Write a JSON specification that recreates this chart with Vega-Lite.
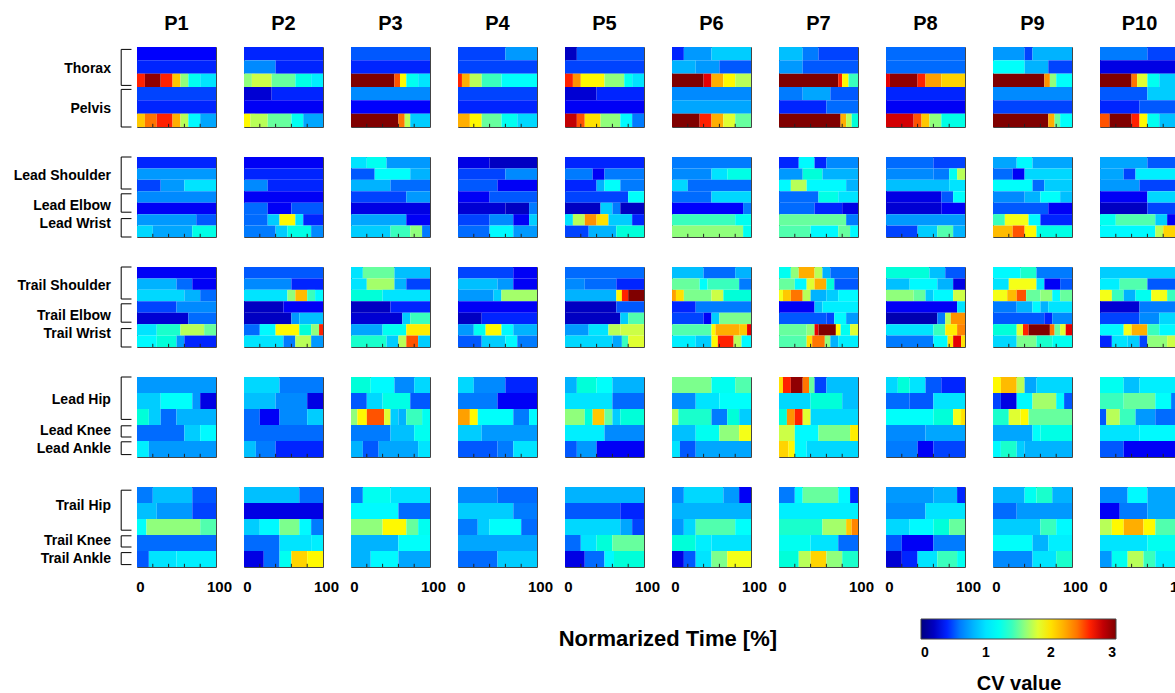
{"$schema":"https://vega.github.io/schema/vega-lite/v6.json","padding":{"left":13,"top":14,"right":0,"bottom":0},"background":"white","title":{"text":"Normarized Time [%]","orient":"bottom","anchor":"middle","font":"Liberation Sans","fontSize":22,"fontWeight":"bold","dx":64,"dy":-69,"color":"black"},"config":{"font":"Liberation Sans","view":{"stroke":"#444","strokeWidth":1},"axis":{"labelFont":"Liberation Sans","labelFontSize":15,"labelFontWeight":"bold","labelColor":"black"}},"data":{"values":[
{"p":1,"g":1,"r":0,"t":0,"e":100,"v":0.37},{"p":1,"g":1,"r":1,"t":0,"e":100,"v":0.4},{"p":1,"g":1,"r":2,"t":0,"e":10,"v":2.6},{"p":1,"g":1,"r":2,"t":10,"e":30,"v":2.95},{"p":1,"g":1,"r":2,"t":30,"e":45,"v":2.6},{"p":1,"g":1,"r":2,"t":45,"e":55,"v":2.1},{"p":1,"g":1,"r":2,"t":55,"e":65,"v":1.6},{"p":1,"g":1,"r":2,"t":65,"e":80,"v":1.2},{"p":1,"g":1,"r":2,"t":80,"e":100,"v":1},{"p":1,"g":1,"r":3,"t":0,"e":100,"v":0.45},{"p":1,"g":1,"r":4,"t":0,"e":100,"v":0.4},{"p":1,"g":1,"r":5,"t":0,"e":10,"v":2.1},{"p":1,"g":1,"r":5,"t":10,"e":25,"v":2.4},{"p":1,"g":1,"r":5,"t":25,"e":45,"v":2.6},{"p":1,"g":1,"r":5,"t":45,"e":55,"v":2.2},{"p":1,"g":1,"r":5,"t":55,"e":65,"v":1.7},{"p":1,"g":1,"r":5,"t":65,"e":80,"v":1.1},{"p":1,"g":1,"r":5,"t":80,"e":100,"v":0.75},
{"p":2,"g":1,"r":0,"t":0,"e":100,"v":0.4},{"p":2,"g":1,"r":1,"t":0,"e":40,"v":0.65},{"p":2,"g":1,"r":1,"t":40,"e":100,"v":0.4},{"p":2,"g":1,"r":2,"t":0,"e":10,"v":1.6},{"p":2,"g":1,"r":2,"t":10,"e":35,"v":1.75},{"p":2,"g":1,"r":2,"t":35,"e":65,"v":1.5},{"p":2,"g":1,"r":2,"t":65,"e":85,"v":1.25},{"p":2,"g":1,"r":2,"t":85,"e":100,"v":1.05},{"p":2,"g":1,"r":3,"t":0,"e":35,"v":0.25},{"p":2,"g":1,"r":3,"t":35,"e":100,"v":0.4},{"p":2,"g":1,"r":4,"t":0,"e":100,"v":0.35},{"p":2,"g":1,"r":5,"t":0,"e":8,"v":1.9},{"p":2,"g":1,"r":5,"t":8,"e":30,"v":1.7},{"p":2,"g":1,"r":5,"t":30,"e":60,"v":1.5},{"p":2,"g":1,"r":5,"t":60,"e":75,"v":1.2},{"p":2,"g":1,"r":5,"t":75,"e":100,"v":0.75},
{"p":3,"g":1,"r":0,"t":0,"e":100,"v":0.5},{"p":3,"g":1,"r":1,"t":0,"e":100,"v":0.4},{"p":3,"g":1,"r":2,"t":0,"e":55,"v":3},{"p":3,"g":1,"r":2,"t":55,"e":62,"v":2.5},{"p":3,"g":1,"r":2,"t":62,"e":70,"v":1.9},{"p":3,"g":1,"r":2,"t":70,"e":85,"v":1.2},{"p":3,"g":1,"r":2,"t":85,"e":100,"v":1},{"p":3,"g":1,"r":3,"t":0,"e":100,"v":0.65},{"p":3,"g":1,"r":4,"t":0,"e":100,"v":0.37},{"p":3,"g":1,"r":5,"t":0,"e":60,"v":3},{"p":3,"g":1,"r":5,"t":60,"e":68,"v":2.4},{"p":3,"g":1,"r":5,"t":68,"e":75,"v":1.7},{"p":3,"g":1,"r":5,"t":75,"e":100,"v":0.9},
{"p":4,"g":1,"r":0,"t":0,"e":60,"v":0.45},{"p":4,"g":1,"r":0,"t":60,"e":100,"v":0.7},{"p":4,"g":1,"r":1,"t":0,"e":100,"v":0.45},{"p":4,"g":1,"r":2,"t":0,"e":5,"v":2.6},{"p":4,"g":1,"r":2,"t":5,"e":15,"v":2.2},{"p":4,"g":1,"r":2,"t":15,"e":30,"v":1.7},{"p":4,"g":1,"r":2,"t":30,"e":55,"v":1.4},{"p":4,"g":1,"r":2,"t":55,"e":100,"v":1.15},{"p":4,"g":1,"r":3,"t":0,"e":100,"v":0.45},{"p":4,"g":1,"r":4,"t":0,"e":100,"v":0.4},{"p":4,"g":1,"r":5,"t":0,"e":15,"v":2.2},{"p":4,"g":1,"r":5,"t":15,"e":30,"v":1.9},{"p":4,"g":1,"r":5,"t":30,"e":55,"v":1.5},{"p":4,"g":1,"r":5,"t":55,"e":75,"v":1.2},{"p":4,"g":1,"r":5,"t":75,"e":100,"v":0.95},
{"p":5,"g":1,"r":0,"t":0,"e":15,"v":0.2},{"p":5,"g":1,"r":0,"t":15,"e":100,"v":0.5},{"p":5,"g":1,"r":1,"t":0,"e":100,"v":0.45},{"p":5,"g":1,"r":2,"t":0,"e":10,"v":2.6},{"p":5,"g":1,"r":2,"t":10,"e":20,"v":2.3},{"p":5,"g":1,"r":2,"t":20,"e":50,"v":1.9},{"p":5,"g":1,"r":2,"t":50,"e":75,"v":1.6},{"p":5,"g":1,"r":2,"t":75,"e":85,"v":1.2},{"p":5,"g":1,"r":2,"t":85,"e":100,"v":1},{"p":5,"g":1,"r":3,"t":0,"e":40,"v":0.25},{"p":5,"g":1,"r":3,"t":40,"e":100,"v":0.4},{"p":5,"g":1,"r":4,"t":0,"e":100,"v":0.35},{"p":5,"g":1,"r":5,"t":0,"e":15,"v":2.8},{"p":5,"g":1,"r":5,"t":15,"e":25,"v":2.5},{"p":5,"g":1,"r":5,"t":25,"e":45,"v":2},{"p":5,"g":1,"r":5,"t":45,"e":70,"v":1.6},{"p":5,"g":1,"r":5,"t":70,"e":85,"v":1.1},{"p":5,"g":1,"r":5,"t":85,"e":100,"v":0.6},
{"p":6,"g":1,"r":0,"t":0,"e":15,"v":0.4},{"p":6,"g":1,"r":0,"t":15,"e":50,"v":0.7},{"p":6,"g":1,"r":0,"t":50,"e":100,"v":0.9},{"p":6,"g":1,"r":1,"t":0,"e":30,"v":0.8},{"p":6,"g":1,"r":1,"t":30,"e":60,"v":0.7},{"p":6,"g":1,"r":1,"t":60,"e":100,"v":0.5},{"p":6,"g":1,"r":2,"t":0,"e":40,"v":3},{"p":6,"g":1,"r":2,"t":40,"e":50,"v":2.7},{"p":6,"g":1,"r":2,"t":50,"e":65,"v":2.2},{"p":6,"g":1,"r":2,"t":65,"e":80,"v":1.9},{"p":6,"g":1,"r":2,"t":80,"e":100,"v":1.7},{"p":6,"g":1,"r":3,"t":0,"e":100,"v":0.65},{"p":6,"g":1,"r":4,"t":0,"e":100,"v":0.75},{"p":6,"g":1,"r":5,"t":0,"e":35,"v":3},{"p":6,"g":1,"r":5,"t":35,"e":50,"v":2.6},{"p":6,"g":1,"r":5,"t":50,"e":65,"v":2.2},{"p":6,"g":1,"r":5,"t":65,"e":80,"v":1.8},{"p":6,"g":1,"r":5,"t":80,"e":100,"v":1.5},
{"p":7,"g":1,"r":0,"t":0,"e":30,"v":0.85},{"p":7,"g":1,"r":0,"t":30,"e":50,"v":0.6},{"p":7,"g":1,"r":0,"t":50,"e":100,"v":0.45},{"p":7,"g":1,"r":1,"t":0,"e":30,"v":0.7},{"p":7,"g":1,"r":1,"t":30,"e":100,"v":0.5},{"p":7,"g":1,"r":2,"t":0,"e":75,"v":3},{"p":7,"g":1,"r":2,"t":75,"e":80,"v":2.6},{"p":7,"g":1,"r":2,"t":80,"e":88,"v":1.9},{"p":7,"g":1,"r":2,"t":88,"e":100,"v":1.4},{"p":7,"g":1,"r":3,"t":0,"e":30,"v":0.6},{"p":7,"g":1,"r":3,"t":30,"e":65,"v":0.75},{"p":7,"g":1,"r":3,"t":65,"e":100,"v":0.5},{"p":7,"g":1,"r":4,"t":0,"e":60,"v":0.4},{"p":7,"g":1,"r":4,"t":60,"e":100,"v":0.55},{"p":7,"g":1,"r":5,"t":0,"e":78,"v":3},{"p":7,"g":1,"r":5,"t":78,"e":85,"v":2.2},{"p":7,"g":1,"r":5,"t":85,"e":92,"v":1.7},{"p":7,"g":1,"r":5,"t":92,"e":100,"v":1.3},
{"p":8,"g":1,"r":0,"t":0,"e":100,"v":0.55},{"p":8,"g":1,"r":1,"t":0,"e":100,"v":0.55},{"p":8,"g":1,"r":2,"t":0,"e":5,"v":2.7},{"p":8,"g":1,"r":2,"t":5,"e":40,"v":2.95},{"p":8,"g":1,"r":2,"t":40,"e":50,"v":2.6},{"p":8,"g":1,"r":2,"t":50,"e":70,"v":2.25},{"p":8,"g":1,"r":2,"t":70,"e":100,"v":2.05},{"p":8,"g":1,"r":3,"t":0,"e":100,"v":0.4},{"p":8,"g":1,"r":4,"t":0,"e":100,"v":0.35},{"p":8,"g":1,"r":5,"t":0,"e":35,"v":2.75},{"p":8,"g":1,"r":5,"t":35,"e":45,"v":2.5},{"p":8,"g":1,"r":5,"t":45,"e":55,"v":2.1},{"p":8,"g":1,"r":5,"t":55,"e":70,"v":1.6},{"p":8,"g":1,"r":5,"t":70,"e":100,"v":1.25},
{"p":9,"g":1,"r":0,"t":0,"e":40,"v":0.7},{"p":9,"g":1,"r":0,"t":40,"e":50,"v":0.45},{"p":9,"g":1,"r":0,"t":50,"e":100,"v":0.8},{"p":9,"g":1,"r":1,"t":0,"e":40,"v":1.15},{"p":9,"g":1,"r":1,"t":40,"e":70,"v":0.8},{"p":9,"g":1,"r":1,"t":70,"e":100,"v":0.45},{"p":9,"g":1,"r":2,"t":0,"e":65,"v":3},{"p":9,"g":1,"r":2,"t":65,"e":72,"v":2.3},{"p":9,"g":1,"r":2,"t":72,"e":80,"v":1.6},{"p":9,"g":1,"r":2,"t":80,"e":100,"v":1.15},{"p":9,"g":1,"r":3,"t":0,"e":100,"v":0.65},{"p":9,"g":1,"r":4,"t":0,"e":100,"v":0.45},{"p":9,"g":1,"r":5,"t":0,"e":70,"v":3},{"p":9,"g":1,"r":5,"t":70,"e":78,"v":2.2},{"p":9,"g":1,"r":5,"t":78,"e":85,"v":1.5},{"p":9,"g":1,"r":5,"t":85,"e":100,"v":1.15},
{"p":10,"g":1,"r":0,"t":0,"e":60,"v":0.6},{"p":10,"g":1,"r":0,"t":60,"e":100,"v":0.45},{"p":10,"g":1,"r":1,"t":0,"e":100,"v":0.3},{"p":10,"g":1,"r":2,"t":0,"e":40,"v":3},{"p":10,"g":1,"r":2,"t":40,"e":47,"v":2.4},{"p":10,"g":1,"r":2,"t":47,"e":60,"v":1.8},{"p":10,"g":1,"r":2,"t":60,"e":75,"v":1.2},{"p":10,"g":1,"r":2,"t":75,"e":100,"v":0.9},{"p":10,"g":1,"r":3,"t":0,"e":60,"v":0.5},{"p":10,"g":1,"r":3,"t":60,"e":100,"v":0.9},{"p":10,"g":1,"r":4,"t":0,"e":50,"v":0.4},{"p":10,"g":1,"r":4,"t":50,"e":100,"v":0.5},{"p":10,"g":1,"r":5,"t":0,"e":12,"v":2.5},{"p":10,"g":1,"r":5,"t":12,"e":40,"v":3},{"p":10,"g":1,"r":5,"t":40,"e":50,"v":2.6},{"p":10,"g":1,"r":5,"t":50,"e":60,"v":1.9},{"p":10,"g":1,"r":5,"t":60,"e":75,"v":1.2},{"p":10,"g":1,"r":5,"t":75,"e":100,"v":0.85},
{"p":1,"g":2,"r":0,"t":0,"e":100,"v":0.4},{"p":1,"g":2,"r":1,"t":0,"e":100,"v":0.7},{"p":1,"g":2,"r":2,"t":0,"e":30,"v":0.45},{"p":1,"g":2,"r":2,"t":30,"e":60,"v":0.7},{"p":1,"g":2,"r":2,"t":60,"e":100,"v":1},{"p":1,"g":2,"r":3,"t":0,"e":100,"v":0.65},{"p":1,"g":2,"r":4,"t":0,"e":100,"v":0.35},{"p":1,"g":2,"r":5,"t":0,"e":75,"v":0.7},{"p":1,"g":2,"r":5,"t":75,"e":100,"v":0.5},{"p":1,"g":2,"r":6,"t":0,"e":20,"v":0.95},{"p":1,"g":2,"r":6,"t":20,"e":70,"v":0.75},{"p":1,"g":2,"r":6,"t":70,"e":100,"v":1.25},
{"p":2,"g":2,"r":0,"t":0,"e":100,"v":0.35},{"p":2,"g":2,"r":1,"t":0,"e":100,"v":0.4},{"p":2,"g":2,"r":2,"t":0,"e":30,"v":0.65},{"p":2,"g":2,"r":2,"t":30,"e":100,"v":0.4},{"p":2,"g":2,"r":3,"t":0,"e":100,"v":0.35},{"p":2,"g":2,"r":4,"t":0,"e":30,"v":0.55},{"p":2,"g":2,"r":4,"t":30,"e":60,"v":0.35},{"p":2,"g":2,"r":4,"t":60,"e":100,"v":0.5},{"p":2,"g":2,"r":5,"t":0,"e":30,"v":0.55},{"p":2,"g":2,"r":5,"t":30,"e":45,"v":0.9},{"p":2,"g":2,"r":5,"t":45,"e":65,"v":1.9},{"p":2,"g":2,"r":5,"t":65,"e":75,"v":1},{"p":2,"g":2,"r":5,"t":75,"e":100,"v":0.4},{"p":2,"g":2,"r":6,"t":0,"e":40,"v":0.6},{"p":2,"g":2,"r":6,"t":40,"e":55,"v":0.9},{"p":2,"g":2,"r":6,"t":55,"e":85,"v":1.25},{"p":2,"g":2,"r":6,"t":85,"e":100,"v":0.65},
{"p":3,"g":2,"r":0,"t":0,"e":20,"v":1},{"p":3,"g":2,"r":0,"t":20,"e":45,"v":1.2},{"p":3,"g":2,"r":0,"t":45,"e":100,"v":0.7},{"p":3,"g":2,"r":1,"t":0,"e":30,"v":0.5},{"p":3,"g":2,"r":1,"t":30,"e":75,"v":1.15},{"p":3,"g":2,"r":1,"t":75,"e":100,"v":0.8},{"p":3,"g":2,"r":2,"t":0,"e":50,"v":0.8},{"p":3,"g":2,"r":2,"t":50,"e":100,"v":0.55},{"p":3,"g":2,"r":3,"t":0,"e":70,"v":0.45},{"p":3,"g":2,"r":3,"t":70,"e":100,"v":0.7},{"p":3,"g":2,"r":4,"t":0,"e":100,"v":0.3},{"p":3,"g":2,"r":5,"t":0,"e":70,"v":0.75},{"p":3,"g":2,"r":5,"t":70,"e":100,"v":0.35},{"p":3,"g":2,"r":6,"t":0,"e":50,"v":0.9},{"p":3,"g":2,"r":6,"t":50,"e":75,"v":1.4},{"p":3,"g":2,"r":6,"t":75,"e":90,"v":1.6},{"p":3,"g":2,"r":6,"t":90,"e":100,"v":0.6},
{"p":4,"g":2,"r":0,"t":0,"e":40,"v":0.3},{"p":4,"g":2,"r":0,"t":40,"e":100,"v":0.2},{"p":4,"g":2,"r":1,"t":0,"e":60,"v":0.45},{"p":4,"g":2,"r":1,"t":60,"e":100,"v":0.65},{"p":4,"g":2,"r":2,"t":0,"e":50,"v":0.5},{"p":4,"g":2,"r":2,"t":50,"e":100,"v":0.35},{"p":4,"g":2,"r":3,"t":0,"e":40,"v":0.35},{"p":4,"g":2,"r":3,"t":40,"e":100,"v":0.5},{"p":4,"g":2,"r":4,"t":0,"e":60,"v":0.25},{"p":4,"g":2,"r":4,"t":60,"e":90,"v":0.2},{"p":4,"g":2,"r":4,"t":90,"e":100,"v":0.6},{"p":4,"g":2,"r":5,"t":0,"e":40,"v":0.45},{"p":4,"g":2,"r":5,"t":40,"e":70,"v":0.65},{"p":4,"g":2,"r":5,"t":70,"e":90,"v":0.35},{"p":4,"g":2,"r":5,"t":90,"e":100,"v":0.9},{"p":4,"g":2,"r":6,"t":0,"e":40,"v":0.55},{"p":4,"g":2,"r":6,"t":40,"e":70,"v":1.1},{"p":4,"g":2,"r":6,"t":70,"e":100,"v":0.7},
{"p":5,"g":2,"r":0,"t":0,"e":100,"v":0.4},{"p":5,"g":2,"r":1,"t":0,"e":35,"v":0.6},{"p":5,"g":2,"r":1,"t":35,"e":50,"v":0.35},{"p":5,"g":2,"r":1,"t":50,"e":100,"v":0.6},{"p":5,"g":2,"r":2,"t":0,"e":40,"v":0.4},{"p":5,"g":2,"r":2,"t":40,"e":50,"v":0.8},{"p":5,"g":2,"r":2,"t":50,"e":70,"v":1.15},{"p":5,"g":2,"r":2,"t":70,"e":100,"v":0.6},{"p":5,"g":2,"r":3,"t":0,"e":80,"v":0.45},{"p":5,"g":2,"r":3,"t":80,"e":100,"v":1.15},{"p":5,"g":2,"r":4,"t":0,"e":45,"v":0.2},{"p":5,"g":2,"r":4,"t":45,"e":60,"v":0.9},{"p":5,"g":2,"r":4,"t":60,"e":70,"v":0.6},{"p":5,"g":2,"r":4,"t":70,"e":100,"v":0.2},{"p":5,"g":2,"r":5,"t":0,"e":10,"v":1},{"p":5,"g":2,"r":5,"t":10,"e":25,"v":1.7},{"p":5,"g":2,"r":5,"t":25,"e":40,"v":2.3},{"p":5,"g":2,"r":5,"t":40,"e":55,"v":2},{"p":5,"g":2,"r":5,"t":55,"e":85,"v":0.9},{"p":5,"g":2,"r":5,"t":85,"e":100,"v":0.4},{"p":5,"g":2,"r":6,"t":0,"e":30,"v":0.45},{"p":5,"g":2,"r":6,"t":30,"e":65,"v":0.8},{"p":5,"g":2,"r":6,"t":65,"e":100,"v":1.3},
{"p":6,"g":2,"r":0,"t":0,"e":100,"v":0.6},{"p":6,"g":2,"r":1,"t":0,"e":50,"v":0.65},{"p":6,"g":2,"r":1,"t":50,"e":70,"v":1},{"p":6,"g":2,"r":1,"t":70,"e":100,"v":1.25},{"p":6,"g":2,"r":2,"t":0,"e":20,"v":0.95},{"p":6,"g":2,"r":2,"t":20,"e":100,"v":0.55},{"p":6,"g":2,"r":3,"t":0,"e":50,"v":0.55},{"p":6,"g":2,"r":3,"t":50,"e":100,"v":0.95},{"p":6,"g":2,"r":4,"t":0,"e":90,"v":0.37},{"p":6,"g":2,"r":4,"t":90,"e":100,"v":0.6},{"p":6,"g":2,"r":5,"t":0,"e":80,"v":1.4},{"p":6,"g":2,"r":5,"t":80,"e":100,"v":1.2},{"p":6,"g":2,"r":6,"t":0,"e":90,"v":1.6},{"p":6,"g":2,"r":6,"t":90,"e":100,"v":1.2},
{"p":7,"g":2,"r":0,"t":0,"e":25,"v":0.4},{"p":7,"g":2,"r":0,"t":25,"e":45,"v":1.1},{"p":7,"g":2,"r":0,"t":45,"e":60,"v":0.4},{"p":7,"g":2,"r":0,"t":60,"e":100,"v":0.65},{"p":7,"g":2,"r":1,"t":0,"e":30,"v":0.7},{"p":7,"g":2,"r":1,"t":30,"e":55,"v":1.3},{"p":7,"g":2,"r":1,"t":55,"e":100,"v":0.8},{"p":7,"g":2,"r":2,"t":0,"e":15,"v":1.1},{"p":7,"g":2,"r":2,"t":15,"e":35,"v":1.7},{"p":7,"g":2,"r":2,"t":35,"e":85,"v":1.1},{"p":7,"g":2,"r":2,"t":85,"e":100,"v":0.8},{"p":7,"g":2,"r":3,"t":0,"e":50,"v":0.55},{"p":7,"g":2,"r":3,"t":50,"e":75,"v":1.25},{"p":7,"g":2,"r":3,"t":75,"e":100,"v":1},{"p":7,"g":2,"r":4,"t":0,"e":45,"v":0.55},{"p":7,"g":2,"r":4,"t":45,"e":80,"v":0.4},{"p":7,"g":2,"r":4,"t":80,"e":100,"v":0.3},{"p":7,"g":2,"r":5,"t":0,"e":85,"v":1.5},{"p":7,"g":2,"r":5,"t":85,"e":100,"v":0.6},{"p":7,"g":2,"r":6,"t":0,"e":40,"v":1.45},{"p":7,"g":2,"r":6,"t":40,"e":75,"v":1.1},{"p":7,"g":2,"r":6,"t":75,"e":90,"v":1.5},{"p":7,"g":2,"r":6,"t":90,"e":100,"v":1.1},
{"p":8,"g":2,"r":0,"t":0,"e":60,"v":0.55},{"p":8,"g":2,"r":0,"t":60,"e":100,"v":0.45},{"p":8,"g":2,"r":1,"t":0,"e":60,"v":0.65},{"p":8,"g":2,"r":1,"t":60,"e":80,"v":0.6},{"p":8,"g":2,"r":1,"t":80,"e":90,"v":1.2},{"p":8,"g":2,"r":1,"t":90,"e":100,"v":1.7},{"p":8,"g":2,"r":2,"t":0,"e":80,"v":0.85},{"p":8,"g":2,"r":2,"t":80,"e":100,"v":1},{"p":8,"g":2,"r":3,"t":0,"e":70,"v":0.3},{"p":8,"g":2,"r":3,"t":70,"e":85,"v":0.5},{"p":8,"g":2,"r":3,"t":85,"e":100,"v":1.15},{"p":8,"g":2,"r":4,"t":0,"e":70,"v":0.25},{"p":8,"g":2,"r":4,"t":70,"e":100,"v":0.35},{"p":8,"g":2,"r":5,"t":0,"e":100,"v":0.7},{"p":8,"g":2,"r":6,"t":0,"e":40,"v":0.45},{"p":8,"g":2,"r":6,"t":40,"e":65,"v":0.9},{"p":8,"g":2,"r":6,"t":65,"e":85,"v":1.45},{"p":8,"g":2,"r":6,"t":85,"e":100,"v":0.8},
{"p":9,"g":2,"r":0,"t":0,"e":30,"v":0.75},{"p":9,"g":2,"r":0,"t":30,"e":50,"v":1.1},{"p":9,"g":2,"r":0,"t":50,"e":100,"v":0.75},{"p":9,"g":2,"r":1,"t":0,"e":25,"v":0.55},{"p":9,"g":2,"r":1,"t":25,"e":40,"v":0.35},{"p":9,"g":2,"r":1,"t":40,"e":100,"v":0.95},{"p":9,"g":2,"r":2,"t":0,"e":50,"v":1.15},{"p":9,"g":2,"r":2,"t":50,"e":65,"v":0.55},{"p":9,"g":2,"r":2,"t":65,"e":100,"v":0.9},{"p":9,"g":2,"r":3,"t":0,"e":40,"v":0.65},{"p":9,"g":2,"r":3,"t":40,"e":60,"v":0.8},{"p":9,"g":2,"r":3,"t":60,"e":85,"v":1.15},{"p":9,"g":2,"r":3,"t":85,"e":100,"v":0.85},{"p":9,"g":2,"r":4,"t":0,"e":70,"v":0.5},{"p":9,"g":2,"r":4,"t":70,"e":100,"v":0.35},{"p":9,"g":2,"r":5,"t":0,"e":15,"v":1.4},{"p":9,"g":2,"r":5,"t":15,"e":45,"v":1.85},{"p":9,"g":2,"r":5,"t":45,"e":60,"v":1.1},{"p":9,"g":2,"r":5,"t":60,"e":100,"v":0.4},{"p":9,"g":2,"r":6,"t":0,"e":25,"v":2.15},{"p":9,"g":2,"r":6,"t":25,"e":40,"v":2.5},{"p":9,"g":2,"r":6,"t":40,"e":55,"v":1.9},{"p":9,"g":2,"r":6,"t":55,"e":100,"v":1.25},
{"p":10,"g":2,"r":0,"t":0,"e":60,"v":0.75},{"p":10,"g":2,"r":0,"t":60,"e":100,"v":0.5},{"p":10,"g":2,"r":1,"t":0,"e":30,"v":0.75},{"p":10,"g":2,"r":1,"t":30,"e":45,"v":0.45},{"p":10,"g":2,"r":1,"t":45,"e":100,"v":1.05},{"p":10,"g":2,"r":2,"t":0,"e":50,"v":0.7},{"p":10,"g":2,"r":2,"t":50,"e":100,"v":0.45},{"p":10,"g":2,"r":3,"t":0,"e":60,"v":0.35},{"p":10,"g":2,"r":3,"t":60,"e":100,"v":0.95},{"p":10,"g":2,"r":4,"t":0,"e":60,"v":0.2},{"p":10,"g":2,"r":4,"t":60,"e":100,"v":0.45},{"p":10,"g":2,"r":5,"t":0,"e":20,"v":1.2},{"p":10,"g":2,"r":5,"t":20,"e":70,"v":1.45},{"p":10,"g":2,"r":5,"t":70,"e":85,"v":0.9},{"p":10,"g":2,"r":5,"t":85,"e":100,"v":0.35},{"p":10,"g":2,"r":6,"t":0,"e":70,"v":1.1},{"p":10,"g":2,"r":6,"t":70,"e":80,"v":1.7},{"p":10,"g":2,"r":6,"t":80,"e":95,"v":2.05},{"p":10,"g":2,"r":6,"t":95,"e":100,"v":1.8},
{"p":1,"g":3,"r":0,"t":0,"e":100,"v":0.35},{"p":1,"g":3,"r":1,"t":0,"e":50,"v":0.8},{"p":1,"g":3,"r":1,"t":50,"e":70,"v":0.55},{"p":1,"g":3,"r":1,"t":70,"e":100,"v":0.35},{"p":1,"g":3,"r":2,"t":0,"e":60,"v":0.95},{"p":1,"g":3,"r":2,"t":60,"e":80,"v":0.8},{"p":1,"g":3,"r":2,"t":80,"e":100,"v":0.55},{"p":1,"g":3,"r":3,"t":0,"e":50,"v":0.45},{"p":1,"g":3,"r":3,"t":50,"e":100,"v":0.65},{"p":1,"g":3,"r":4,"t":0,"e":65,"v":0.25},{"p":1,"g":3,"r":4,"t":65,"e":100,"v":0.55},{"p":1,"g":3,"r":5,"t":0,"e":25,"v":1},{"p":1,"g":3,"r":5,"t":25,"e":55,"v":1.35},{"p":1,"g":3,"r":5,"t":55,"e":85,"v":1.7},{"p":1,"g":3,"r":5,"t":85,"e":100,"v":1.5},{"p":1,"g":3,"r":6,"t":0,"e":25,"v":1.1},{"p":1,"g":3,"r":6,"t":25,"e":50,"v":1.3},{"p":1,"g":3,"r":6,"t":50,"e":60,"v":0.7},{"p":1,"g":3,"r":6,"t":60,"e":100,"v":0.4},
{"p":2,"g":3,"r":0,"t":0,"e":100,"v":0.5},{"p":2,"g":3,"r":1,"t":0,"e":60,"v":0.65},{"p":2,"g":3,"r":1,"t":60,"e":100,"v":0.4},{"p":2,"g":3,"r":2,"t":0,"e":55,"v":1},{"p":2,"g":3,"r":2,"t":55,"e":65,"v":1.6},{"p":2,"g":3,"r":2,"t":65,"e":80,"v":2.15},{"p":2,"g":3,"r":2,"t":80,"e":90,"v":1.4},{"p":2,"g":3,"r":2,"t":90,"e":100,"v":1.1},{"p":2,"g":3,"r":3,"t":0,"e":50,"v":0.2},{"p":2,"g":3,"r":3,"t":50,"e":100,"v":0.35},{"p":2,"g":3,"r":4,"t":0,"e":60,"v":0.2},{"p":2,"g":3,"r":4,"t":60,"e":70,"v":0.7},{"p":2,"g":3,"r":4,"t":70,"e":100,"v":0.85},{"p":2,"g":3,"r":5,"t":0,"e":20,"v":0.55},{"p":2,"g":3,"r":5,"t":20,"e":40,"v":1.1},{"p":2,"g":3,"r":5,"t":40,"e":70,"v":1.9},{"p":2,"g":3,"r":5,"t":70,"e":85,"v":1.3},{"p":2,"g":3,"r":5,"t":85,"e":95,"v":1.6},{"p":2,"g":3,"r":5,"t":95,"e":100,"v":2.6},{"p":2,"g":3,"r":6,"t":0,"e":50,"v":1},{"p":2,"g":3,"r":6,"t":50,"e":65,"v":0.6},{"p":2,"g":3,"r":6,"t":65,"e":85,"v":1.7},{"p":2,"g":3,"r":6,"t":85,"e":100,"v":0.7},
{"p":3,"g":3,"r":0,"t":0,"e":15,"v":1},{"p":3,"g":3,"r":0,"t":15,"e":55,"v":1.5},{"p":3,"g":3,"r":0,"t":55,"e":100,"v":0.85},{"p":3,"g":3,"r":1,"t":0,"e":20,"v":1},{"p":3,"g":3,"r":1,"t":20,"e":55,"v":1.65},{"p":3,"g":3,"r":1,"t":55,"e":70,"v":0.8},{"p":3,"g":3,"r":1,"t":70,"e":100,"v":0.45},{"p":3,"g":3,"r":2,"t":0,"e":40,"v":1.3},{"p":3,"g":3,"r":2,"t":40,"e":100,"v":1},{"p":3,"g":3,"r":3,"t":0,"e":50,"v":0.2},{"p":3,"g":3,"r":3,"t":50,"e":100,"v":0.4},{"p":3,"g":3,"r":4,"t":0,"e":65,"v":0.25},{"p":3,"g":3,"r":4,"t":65,"e":75,"v":0.9},{"p":3,"g":3,"r":4,"t":75,"e":100,"v":1.4},{"p":3,"g":3,"r":5,"t":0,"e":40,"v":0.75},{"p":3,"g":3,"r":5,"t":40,"e":70,"v":1.2},{"p":3,"g":3,"r":5,"t":70,"e":100,"v":1.95},{"p":3,"g":3,"r":6,"t":0,"e":45,"v":1.35},{"p":3,"g":3,"r":6,"t":45,"e":60,"v":0.9},{"p":3,"g":3,"r":6,"t":60,"e":70,"v":1.7},{"p":3,"g":3,"r":6,"t":70,"e":85,"v":2.5},{"p":3,"g":3,"r":6,"t":85,"e":100,"v":0.9},
{"p":4,"g":3,"r":0,"t":0,"e":70,"v":0.45},{"p":4,"g":3,"r":0,"t":70,"e":100,"v":0.35},{"p":4,"g":3,"r":1,"t":0,"e":50,"v":0.85},{"p":4,"g":3,"r":1,"t":50,"e":70,"v":0.7},{"p":4,"g":3,"r":1,"t":70,"e":100,"v":0.35},{"p":4,"g":3,"r":2,"t":0,"e":45,"v":0.7},{"p":4,"g":3,"r":2,"t":45,"e":55,"v":0.9},{"p":4,"g":3,"r":2,"t":55,"e":100,"v":1.65},{"p":4,"g":3,"r":3,"t":0,"e":100,"v":0.35},{"p":4,"g":3,"r":4,"t":0,"e":30,"v":0.2},{"p":4,"g":3,"r":4,"t":30,"e":100,"v":0.4},{"p":4,"g":3,"r":5,"t":0,"e":20,"v":0.7},{"p":4,"g":3,"r":5,"t":20,"e":35,"v":1.2},{"p":4,"g":3,"r":5,"t":35,"e":55,"v":1.9},{"p":4,"g":3,"r":5,"t":55,"e":70,"v":1.1},{"p":4,"g":3,"r":5,"t":70,"e":100,"v":0.8},{"p":4,"g":3,"r":6,"t":0,"e":30,"v":0.5},{"p":4,"g":3,"r":6,"t":30,"e":60,"v":0.9},{"p":4,"g":3,"r":6,"t":60,"e":75,"v":1.1},{"p":4,"g":3,"r":6,"t":75,"e":100,"v":0.6},
{"p":5,"g":3,"r":0,"t":0,"e":100,"v":0.55},{"p":5,"g":3,"r":1,"t":0,"e":25,"v":0.65},{"p":5,"g":3,"r":1,"t":25,"e":65,"v":0.55},{"p":5,"g":3,"r":1,"t":65,"e":100,"v":0.4},{"p":5,"g":3,"r":2,"t":0,"e":65,"v":0.8},{"p":5,"g":3,"r":2,"t":65,"e":72,"v":1.9},{"p":5,"g":3,"r":2,"t":72,"e":80,"v":2.6},{"p":5,"g":3,"r":2,"t":80,"e":100,"v":3},{"p":5,"g":3,"r":3,"t":0,"e":65,"v":0.2},{"p":5,"g":3,"r":3,"t":65,"e":100,"v":0.5},{"p":5,"g":3,"r":4,"t":0,"e":70,"v":0.2},{"p":5,"g":3,"r":4,"t":70,"e":80,"v":0.9},{"p":5,"g":3,"r":4,"t":80,"e":100,"v":1.45},{"p":5,"g":3,"r":5,"t":0,"e":30,"v":0.7},{"p":5,"g":3,"r":5,"t":30,"e":55,"v":1},{"p":5,"g":3,"r":5,"t":55,"e":70,"v":1.7},{"p":5,"g":3,"r":5,"t":70,"e":100,"v":1.75},{"p":5,"g":3,"r":6,"t":0,"e":60,"v":0.95},{"p":5,"g":3,"r":6,"t":60,"e":72,"v":0.75},{"p":5,"g":3,"r":6,"t":72,"e":80,"v":1.4},{"p":5,"g":3,"r":6,"t":80,"e":100,"v":1.8},
{"p":6,"g":3,"r":0,"t":0,"e":40,"v":0.85},{"p":6,"g":3,"r":0,"t":40,"e":80,"v":0.55},{"p":6,"g":3,"r":0,"t":80,"e":100,"v":0.8},{"p":6,"g":3,"r":1,"t":0,"e":35,"v":1.5},{"p":6,"g":3,"r":1,"t":35,"e":45,"v":1.15},{"p":6,"g":3,"r":1,"t":45,"e":85,"v":1.4},{"p":6,"g":3,"r":1,"t":85,"e":100,"v":0.6},{"p":6,"g":3,"r":2,"t":0,"e":5,"v":2.25},{"p":6,"g":3,"r":2,"t":5,"e":15,"v":2},{"p":6,"g":3,"r":2,"t":15,"e":50,"v":1.55},{"p":6,"g":3,"r":2,"t":50,"e":65,"v":1.75},{"p":6,"g":3,"r":2,"t":65,"e":100,"v":1.3},{"p":6,"g":3,"r":3,"t":0,"e":30,"v":0.4},{"p":6,"g":3,"r":3,"t":30,"e":100,"v":0.6},{"p":6,"g":3,"r":4,"t":0,"e":40,"v":0.45},{"p":6,"g":3,"r":4,"t":40,"e":50,"v":0.35},{"p":6,"g":3,"r":4,"t":50,"e":60,"v":0.9},{"p":6,"g":3,"r":4,"t":60,"e":100,"v":1.55},{"p":6,"g":3,"r":5,"t":0,"e":50,"v":1.45},{"p":6,"g":3,"r":5,"t":50,"e":55,"v":1.9},{"p":6,"g":3,"r":5,"t":55,"e":85,"v":2.2},{"p":6,"g":3,"r":5,"t":85,"e":95,"v":2.1},{"p":6,"g":3,"r":5,"t":95,"e":100,"v":2.7},{"p":6,"g":3,"r":6,"t":0,"e":30,"v":1.05},{"p":6,"g":3,"r":6,"t":30,"e":50,"v":0.9},{"p":6,"g":3,"r":6,"t":50,"e":58,"v":1.9},{"p":6,"g":3,"r":6,"t":58,"e":78,"v":2.6},{"p":6,"g":3,"r":6,"t":78,"e":88,"v":1.7},{"p":6,"g":3,"r":6,"t":88,"e":100,"v":1.1},
{"p":7,"g":3,"r":0,"t":0,"e":15,"v":1.2},{"p":7,"g":3,"r":0,"t":15,"e":25,"v":1.6},{"p":7,"g":3,"r":0,"t":25,"e":45,"v":2.2},{"p":7,"g":3,"r":0,"t":45,"e":55,"v":1.7},{"p":7,"g":3,"r":0,"t":55,"e":65,"v":0.8},{"p":7,"g":3,"r":0,"t":65,"e":100,"v":0.55},{"p":7,"g":3,"r":1,"t":0,"e":20,"v":1.5},{"p":7,"g":3,"r":1,"t":20,"e":35,"v":1.1},{"p":7,"g":3,"r":1,"t":35,"e":45,"v":1.8},{"p":7,"g":3,"r":1,"t":45,"e":60,"v":2.2},{"p":7,"g":3,"r":1,"t":60,"e":70,"v":1.3},{"p":7,"g":3,"r":1,"t":70,"e":100,"v":0.5},{"p":7,"g":3,"r":2,"t":0,"e":5,"v":1.85},{"p":7,"g":3,"r":2,"t":5,"e":15,"v":2.1},{"p":7,"g":3,"r":2,"t":15,"e":30,"v":2.4},{"p":7,"g":3,"r":2,"t":30,"e":40,"v":1.7},{"p":7,"g":3,"r":2,"t":40,"e":60,"v":0.8},{"p":7,"g":3,"r":2,"t":60,"e":75,"v":0.9},{"p":7,"g":3,"r":2,"t":75,"e":100,"v":1.1},{"p":7,"g":3,"r":3,"t":0,"e":45,"v":0.35},{"p":7,"g":3,"r":3,"t":45,"e":55,"v":0.85},{"p":7,"g":3,"r":3,"t":55,"e":100,"v":1.05},{"p":7,"g":3,"r":4,"t":0,"e":60,"v":0.5},{"p":7,"g":3,"r":4,"t":60,"e":70,"v":0.45},{"p":7,"g":3,"r":4,"t":70,"e":85,"v":1.1},{"p":7,"g":3,"r":4,"t":85,"e":100,"v":0.7},{"p":7,"g":3,"r":5,"t":0,"e":35,"v":1.5},{"p":7,"g":3,"r":5,"t":35,"e":45,"v":1.6},{"p":7,"g":3,"r":5,"t":45,"e":50,"v":2.7},{"p":7,"g":3,"r":5,"t":50,"e":72,"v":3},{"p":7,"g":3,"r":5,"t":72,"e":78,"v":1.9},{"p":7,"g":3,"r":5,"t":78,"e":90,"v":1.2},{"p":7,"g":3,"r":5,"t":90,"e":100,"v":1.8},{"p":7,"g":3,"r":6,"t":0,"e":35,"v":1.45},{"p":7,"g":3,"r":6,"t":35,"e":42,"v":2},{"p":7,"g":3,"r":6,"t":42,"e":58,"v":2.4},{"p":7,"g":3,"r":6,"t":58,"e":65,"v":1.6},{"p":7,"g":3,"r":6,"t":65,"e":75,"v":0.8},{"p":7,"g":3,"r":6,"t":75,"e":100,"v":1.05},
{"p":8,"g":3,"r":0,"t":0,"e":55,"v":1.3},{"p":8,"g":3,"r":0,"t":55,"e":75,"v":0.85},{"p":8,"g":3,"r":0,"t":75,"e":100,"v":0.5},{"p":8,"g":3,"r":1,"t":0,"e":30,"v":0.85},{"p":8,"g":3,"r":1,"t":30,"e":65,"v":1.1},{"p":8,"g":3,"r":1,"t":65,"e":85,"v":0.8},{"p":8,"g":3,"r":1,"t":85,"e":100,"v":0.3},{"p":8,"g":3,"r":2,"t":0,"e":35,"v":1.6},{"p":8,"g":3,"r":2,"t":35,"e":50,"v":1.5},{"p":8,"g":3,"r":2,"t":50,"e":60,"v":0.9},{"p":8,"g":3,"r":2,"t":60,"e":85,"v":1.1},{"p":8,"g":3,"r":2,"t":85,"e":100,"v":1.75},{"p":8,"g":3,"r":3,"t":0,"e":90,"v":0.35},{"p":8,"g":3,"r":3,"t":90,"e":100,"v":1},{"p":8,"g":3,"r":4,"t":0,"e":65,"v":0.15},{"p":8,"g":3,"r":4,"t":65,"e":75,"v":0.6},{"p":8,"g":3,"r":4,"t":75,"e":82,"v":1.7},{"p":8,"g":3,"r":4,"t":82,"e":100,"v":2.3},{"p":8,"g":3,"r":5,"t":0,"e":60,"v":1},{"p":8,"g":3,"r":5,"t":60,"e":75,"v":1.4},{"p":8,"g":3,"r":5,"t":75,"e":90,"v":1.95},{"p":8,"g":3,"r":5,"t":90,"e":100,"v":2.35},{"p":8,"g":3,"r":6,"t":0,"e":60,"v":0.6},{"p":8,"g":3,"r":6,"t":60,"e":78,"v":1.1},{"p":8,"g":3,"r":6,"t":78,"e":85,"v":2},{"p":8,"g":3,"r":6,"t":85,"e":95,"v":2.7},{"p":8,"g":3,"r":6,"t":95,"e":100,"v":2},
{"p":9,"g":3,"r":0,"t":0,"e":35,"v":1.1},{"p":9,"g":3,"r":0,"t":35,"e":55,"v":1.35},{"p":9,"g":3,"r":0,"t":55,"e":100,"v":0.6},{"p":9,"g":3,"r":1,"t":0,"e":20,"v":1},{"p":9,"g":3,"r":1,"t":20,"e":55,"v":1.85},{"p":9,"g":3,"r":1,"t":55,"e":65,"v":1},{"p":9,"g":3,"r":1,"t":65,"e":85,"v":0.35},{"p":9,"g":3,"r":1,"t":85,"e":100,"v":0.5},{"p":9,"g":3,"r":2,"t":0,"e":18,"v":1.85},{"p":9,"g":3,"r":2,"t":18,"e":30,"v":2.15},{"p":9,"g":3,"r":2,"t":30,"e":42,"v":2.5},{"p":9,"g":3,"r":2,"t":42,"e":60,"v":1.5},{"p":9,"g":3,"r":2,"t":60,"e":75,"v":1.6},{"p":9,"g":3,"r":2,"t":75,"e":85,"v":1.1},{"p":9,"g":3,"r":2,"t":85,"e":100,"v":1.5},{"p":9,"g":3,"r":3,"t":0,"e":30,"v":0.6},{"p":9,"g":3,"r":3,"t":30,"e":50,"v":0.8},{"p":9,"g":3,"r":3,"t":50,"e":60,"v":1.1},{"p":9,"g":3,"r":3,"t":60,"e":70,"v":0.8},{"p":9,"g":3,"r":3,"t":70,"e":100,"v":1},{"p":9,"g":3,"r":4,"t":0,"e":65,"v":0.5},{"p":9,"g":3,"r":4,"t":65,"e":75,"v":0.4},{"p":9,"g":3,"r":4,"t":75,"e":100,"v":0.65},{"p":9,"g":3,"r":5,"t":0,"e":30,"v":1.3},{"p":9,"g":3,"r":5,"t":30,"e":38,"v":1.8},{"p":9,"g":3,"r":5,"t":38,"e":45,"v":2.6},{"p":9,"g":3,"r":5,"t":45,"e":72,"v":3},{"p":9,"g":3,"r":5,"t":72,"e":78,"v":2.4},{"p":9,"g":3,"r":5,"t":78,"e":85,"v":1.5},{"p":9,"g":3,"r":5,"t":85,"e":92,"v":1.8},{"p":9,"g":3,"r":5,"t":92,"e":100,"v":2.7},{"p":9,"g":3,"r":6,"t":0,"e":30,"v":0.95},{"p":9,"g":3,"r":6,"t":30,"e":55,"v":1.55},{"p":9,"g":3,"r":6,"t":55,"e":75,"v":1.35},{"p":9,"g":3,"r":6,"t":75,"e":100,"v":1.2},
{"p":10,"g":3,"r":0,"t":0,"e":100,"v":0.9},{"p":10,"g":3,"r":1,"t":0,"e":25,"v":1.05},{"p":10,"g":3,"r":1,"t":25,"e":60,"v":1.45},{"p":10,"g":3,"r":1,"t":60,"e":100,"v":0.5},{"p":10,"g":3,"r":2,"t":0,"e":15,"v":1.85},{"p":10,"g":3,"r":2,"t":15,"e":30,"v":1.4},{"p":10,"g":3,"r":2,"t":30,"e":45,"v":0.8},{"p":10,"g":3,"r":2,"t":45,"e":65,"v":1.2},{"p":10,"g":3,"r":2,"t":65,"e":85,"v":1.85},{"p":10,"g":3,"r":2,"t":85,"e":100,"v":1.4},{"p":10,"g":3,"r":3,"t":0,"e":50,"v":0.25},{"p":10,"g":3,"r":3,"t":50,"e":100,"v":0.6},{"p":10,"g":3,"r":4,"t":0,"e":50,"v":0.45},{"p":10,"g":3,"r":4,"t":50,"e":75,"v":0.65},{"p":10,"g":3,"r":4,"t":75,"e":100,"v":0.95},{"p":10,"g":3,"r":5,"t":0,"e":30,"v":1.1},{"p":10,"g":3,"r":5,"t":30,"e":40,"v":1.85},{"p":10,"g":3,"r":5,"t":40,"e":60,"v":2.2},{"p":10,"g":3,"r":5,"t":60,"e":75,"v":1.4},{"p":10,"g":3,"r":5,"t":75,"e":100,"v":1.1},{"p":10,"g":3,"r":6,"t":0,"e":15,"v":0.4},{"p":10,"g":3,"r":6,"t":15,"e":35,"v":1},{"p":10,"g":3,"r":6,"t":35,"e":50,"v":0.9},{"p":10,"g":3,"r":6,"t":50,"e":60,"v":0.45},{"p":10,"g":3,"r":6,"t":60,"e":85,"v":1.6},{"p":10,"g":3,"r":6,"t":85,"e":100,"v":1.75},
{"p":1,"g":4,"r":0,"t":0,"e":100,"v":0.7},{"p":1,"g":4,"r":1,"t":0,"e":30,"v":0.9},{"p":1,"g":4,"r":1,"t":30,"e":70,"v":1.15},{"p":1,"g":4,"r":1,"t":70,"e":80,"v":0.7},{"p":1,"g":4,"r":1,"t":80,"e":100,"v":0.3},{"p":1,"g":4,"r":2,"t":0,"e":15,"v":1.3},{"p":1,"g":4,"r":2,"t":15,"e":30,"v":0.9},{"p":1,"g":4,"r":2,"t":30,"e":50,"v":0.55},{"p":1,"g":4,"r":2,"t":50,"e":100,"v":0.8},{"p":1,"g":4,"r":3,"t":0,"e":60,"v":0.55},{"p":1,"g":4,"r":3,"t":60,"e":80,"v":0.9},{"p":1,"g":4,"r":3,"t":80,"e":100,"v":1.1},{"p":1,"g":4,"r":4,"t":0,"e":15,"v":1.05},{"p":1,"g":4,"r":4,"t":15,"e":100,"v":0.7},
{"p":2,"g":4,"r":0,"t":0,"e":45,"v":0.95},{"p":2,"g":4,"r":0,"t":45,"e":100,"v":0.6},{"p":2,"g":4,"r":1,"t":0,"e":40,"v":0.85},{"p":2,"g":4,"r":1,"t":40,"e":80,"v":0.65},{"p":2,"g":4,"r":1,"t":80,"e":100,"v":0.3},{"p":2,"g":4,"r":2,"t":0,"e":20,"v":0.55},{"p":2,"g":4,"r":2,"t":20,"e":45,"v":0.35},{"p":2,"g":4,"r":2,"t":45,"e":80,"v":0.65},{"p":2,"g":4,"r":2,"t":80,"e":100,"v":0.9},{"p":2,"g":4,"r":3,"t":0,"e":100,"v":0.55},{"p":2,"g":4,"r":4,"t":0,"e":15,"v":0.85},{"p":2,"g":4,"r":4,"t":15,"e":40,"v":0.6},{"p":2,"g":4,"r":4,"t":40,"e":100,"v":0.4},
{"p":3,"g":4,"r":0,"t":0,"e":25,"v":1.3},{"p":3,"g":4,"r":0,"t":25,"e":55,"v":1.1},{"p":3,"g":4,"r":0,"t":55,"e":80,"v":0.65},{"p":3,"g":4,"r":0,"t":80,"e":100,"v":0.95},{"p":3,"g":4,"r":1,"t":0,"e":20,"v":0.5},{"p":3,"g":4,"r":1,"t":20,"e":40,"v":0.95},{"p":3,"g":4,"r":1,"t":40,"e":75,"v":1.25},{"p":3,"g":4,"r":1,"t":75,"e":100,"v":0.5},{"p":3,"g":4,"r":2,"t":0,"e":8,"v":1.6},{"p":3,"g":4,"r":2,"t":8,"e":20,"v":1.9},{"p":3,"g":4,"r":2,"t":20,"e":42,"v":2.5},{"p":3,"g":4,"r":2,"t":42,"e":50,"v":1.8},{"p":3,"g":4,"r":2,"t":50,"e":60,"v":0.9},{"p":3,"g":4,"r":2,"t":60,"e":70,"v":0.8},{"p":3,"g":4,"r":2,"t":70,"e":90,"v":1.4},{"p":3,"g":4,"r":2,"t":90,"e":100,"v":1.2},{"p":3,"g":4,"r":3,"t":0,"e":50,"v":0.6},{"p":3,"g":4,"r":3,"t":50,"e":80,"v":0.85},{"p":3,"g":4,"r":3,"t":80,"e":100,"v":1.2},{"p":3,"g":4,"r":4,"t":0,"e":15,"v":0.8},{"p":3,"g":4,"r":4,"t":15,"e":35,"v":0.5},{"p":3,"g":4,"r":4,"t":35,"e":85,"v":0.75},{"p":3,"g":4,"r":4,"t":85,"e":100,"v":1},
{"p":4,"g":4,"r":0,"t":0,"e":20,"v":0.95},{"p":4,"g":4,"r":0,"t":20,"e":60,"v":0.65},{"p":4,"g":4,"r":0,"t":60,"e":100,"v":0.4},{"p":4,"g":4,"r":1,"t":0,"e":50,"v":0.6},{"p":4,"g":4,"r":1,"t":50,"e":100,"v":0.35},{"p":4,"g":4,"r":2,"t":0,"e":15,"v":2.25},{"p":4,"g":4,"r":2,"t":15,"e":25,"v":1.9},{"p":4,"g":4,"r":2,"t":25,"e":70,"v":1.15},{"p":4,"g":4,"r":2,"t":70,"e":90,"v":0.6},{"p":4,"g":4,"r":2,"t":90,"e":100,"v":1.1},{"p":4,"g":4,"r":3,"t":0,"e":30,"v":0.9},{"p":4,"g":4,"r":3,"t":30,"e":100,"v":0.7},{"p":4,"g":4,"r":4,"t":0,"e":50,"v":0.5},{"p":4,"g":4,"r":4,"t":50,"e":70,"v":0.6},{"p":4,"g":4,"r":4,"t":70,"e":100,"v":1},
{"p":5,"g":4,"r":0,"t":0,"e":15,"v":0.8},{"p":5,"g":4,"r":0,"t":15,"e":40,"v":1.3},{"p":5,"g":4,"r":0,"t":40,"e":60,"v":1.15},{"p":5,"g":4,"r":0,"t":60,"e":100,"v":0.8},{"p":5,"g":4,"r":1,"t":0,"e":60,"v":1},{"p":5,"g":4,"r":1,"t":60,"e":100,"v":0.55},{"p":5,"g":4,"r":2,"t":0,"e":25,"v":1.6},{"p":5,"g":4,"r":2,"t":25,"e":35,"v":1.3},{"p":5,"g":4,"r":2,"t":35,"e":50,"v":2.1},{"p":5,"g":4,"r":2,"t":50,"e":60,"v":1.5},{"p":5,"g":4,"r":2,"t":60,"e":70,"v":0.9},{"p":5,"g":4,"r":2,"t":70,"e":100,"v":1.3},{"p":5,"g":4,"r":3,"t":0,"e":50,"v":1.05},{"p":5,"g":4,"r":3,"t":50,"e":100,"v":0.65},{"p":5,"g":4,"r":4,"t":0,"e":15,"v":0.5},{"p":5,"g":4,"r":4,"t":15,"e":40,"v":0.7},{"p":5,"g":4,"r":4,"t":40,"e":100,"v":0.35},
{"p":6,"g":4,"r":0,"t":0,"e":50,"v":1.55},{"p":6,"g":4,"r":0,"t":50,"e":80,"v":1.2},{"p":6,"g":4,"r":0,"t":80,"e":100,"v":1.45},{"p":6,"g":4,"r":1,"t":0,"e":30,"v":0.65},{"p":6,"g":4,"r":1,"t":30,"e":60,"v":1},{"p":6,"g":4,"r":1,"t":60,"e":100,"v":1.15},{"p":6,"g":4,"r":2,"t":0,"e":8,"v":1.7},{"p":6,"g":4,"r":2,"t":8,"e":50,"v":1.35},{"p":6,"g":4,"r":2,"t":50,"e":70,"v":0.6},{"p":6,"g":4,"r":2,"t":70,"e":85,"v":1.3},{"p":6,"g":4,"r":2,"t":85,"e":100,"v":0.9},{"p":6,"g":4,"r":3,"t":0,"e":30,"v":0.85},{"p":6,"g":4,"r":3,"t":30,"e":60,"v":1.2},{"p":6,"g":4,"r":3,"t":60,"e":85,"v":1.6},{"p":6,"g":4,"r":3,"t":85,"e":100,"v":1.85},{"p":6,"g":4,"r":4,"t":0,"e":10,"v":1},{"p":6,"g":4,"r":4,"t":10,"e":30,"v":0.5},{"p":6,"g":4,"r":4,"t":30,"e":100,"v":0.75},
{"p":7,"g":4,"r":0,"t":0,"e":5,"v":2},{"p":7,"g":4,"r":0,"t":5,"e":15,"v":2.6},{"p":7,"g":4,"r":0,"t":15,"e":30,"v":2.95},{"p":7,"g":4,"r":0,"t":30,"e":38,"v":2.4},{"p":7,"g":4,"r":0,"t":38,"e":45,"v":1.5},{"p":7,"g":4,"r":0,"t":45,"e":60,"v":0.45},{"p":7,"g":4,"r":0,"t":60,"e":100,"v":0.85},{"p":7,"g":4,"r":1,"t":0,"e":40,"v":0.95},{"p":7,"g":4,"r":1,"t":40,"e":80,"v":1.3},{"p":7,"g":4,"r":1,"t":80,"e":100,"v":0.85},{"p":7,"g":4,"r":2,"t":0,"e":10,"v":1.3},{"p":7,"g":4,"r":2,"t":10,"e":20,"v":2.3},{"p":7,"g":4,"r":2,"t":20,"e":30,"v":2.6},{"p":7,"g":4,"r":2,"t":30,"e":40,"v":1.8},{"p":7,"g":4,"r":2,"t":40,"e":100,"v":0.95},{"p":7,"g":4,"r":3,"t":0,"e":20,"v":1.75},{"p":7,"g":4,"r":3,"t":20,"e":50,"v":1.1},{"p":7,"g":4,"r":3,"t":50,"e":90,"v":1.55},{"p":7,"g":4,"r":3,"t":90,"e":100,"v":1.95},{"p":7,"g":4,"r":4,"t":0,"e":12,"v":2.05},{"p":7,"g":4,"r":4,"t":12,"e":20,"v":1.9},{"p":7,"g":4,"r":4,"t":20,"e":35,"v":1.1},{"p":7,"g":4,"r":4,"t":35,"e":100,"v":0.95},
{"p":8,"g":4,"r":0,"t":0,"e":15,"v":0.95},{"p":8,"g":4,"r":0,"t":15,"e":30,"v":1.3},{"p":8,"g":4,"r":0,"t":30,"e":50,"v":1},{"p":8,"g":4,"r":0,"t":50,"e":70,"v":0.5},{"p":8,"g":4,"r":0,"t":70,"e":100,"v":0.4},{"p":8,"g":4,"r":1,"t":0,"e":30,"v":0.55},{"p":8,"g":4,"r":1,"t":30,"e":60,"v":0.5},{"p":8,"g":4,"r":1,"t":60,"e":100,"v":1},{"p":8,"g":4,"r":2,"t":0,"e":60,"v":1.15},{"p":8,"g":4,"r":2,"t":60,"e":85,"v":1.3},{"p":8,"g":4,"r":2,"t":85,"e":95,"v":1.85},{"p":8,"g":4,"r":2,"t":95,"e":100,"v":2},{"p":8,"g":4,"r":3,"t":0,"e":50,"v":0.65},{"p":8,"g":4,"r":3,"t":50,"e":100,"v":0.75},{"p":8,"g":4,"r":4,"t":0,"e":40,"v":0.6},{"p":8,"g":4,"r":4,"t":40,"e":60,"v":0.35},{"p":8,"g":4,"r":4,"t":60,"e":100,"v":0.45},
{"p":9,"g":4,"r":0,"t":0,"e":10,"v":1.9},{"p":9,"g":4,"r":0,"t":10,"e":30,"v":2.15},{"p":9,"g":4,"r":0,"t":30,"e":40,"v":1.7},{"p":9,"g":4,"r":0,"t":40,"e":55,"v":0.75},{"p":9,"g":4,"r":0,"t":55,"e":100,"v":0.95},{"p":9,"g":4,"r":1,"t":0,"e":10,"v":0.45},{"p":9,"g":4,"r":1,"t":10,"e":30,"v":0.3},{"p":9,"g":4,"r":1,"t":30,"e":50,"v":1.1},{"p":9,"g":4,"r":1,"t":50,"e":80,"v":1.65},{"p":9,"g":4,"r":1,"t":80,"e":90,"v":1.1},{"p":9,"g":4,"r":1,"t":90,"e":100,"v":0.5},{"p":9,"g":4,"r":2,"t":0,"e":20,"v":1.35},{"p":9,"g":4,"r":2,"t":20,"e":35,"v":1.8},{"p":9,"g":4,"r":2,"t":35,"e":45,"v":1.9},{"p":9,"g":4,"r":2,"t":45,"e":100,"v":1.5},{"p":9,"g":4,"r":3,"t":0,"e":50,"v":0.75},{"p":9,"g":4,"r":3,"t":50,"e":60,"v":1.15},{"p":9,"g":4,"r":3,"t":60,"e":100,"v":1.25},{"p":9,"g":4,"r":4,"t":0,"e":10,"v":1.1},{"p":9,"g":4,"r":4,"t":10,"e":30,"v":1.35},{"p":9,"g":4,"r":4,"t":30,"e":40,"v":0.9},{"p":9,"g":4,"r":4,"t":40,"e":100,"v":0.8},
{"p":10,"g":4,"r":0,"t":0,"e":30,"v":1.2},{"p":10,"g":4,"r":0,"t":30,"e":50,"v":0.85},{"p":10,"g":4,"r":0,"t":50,"e":100,"v":1.05},{"p":10,"g":4,"r":1,"t":0,"e":30,"v":1.4},{"p":10,"g":4,"r":1,"t":30,"e":70,"v":1.5},{"p":10,"g":4,"r":1,"t":70,"e":90,"v":1.15},{"p":10,"g":4,"r":1,"t":90,"e":100,"v":0.6},{"p":10,"g":4,"r":2,"t":0,"e":8,"v":0.5},{"p":10,"g":4,"r":2,"t":8,"e":25,"v":1.7},{"p":10,"g":4,"r":2,"t":25,"e":45,"v":1.4},{"p":10,"g":4,"r":2,"t":45,"e":70,"v":0.7},{"p":10,"g":4,"r":2,"t":70,"e":100,"v":0.55},{"p":10,"g":4,"r":3,"t":0,"e":50,"v":1},{"p":10,"g":4,"r":3,"t":50,"e":100,"v":1.1},{"p":10,"g":4,"r":4,"t":0,"e":30,"v":0.5},{"p":10,"g":4,"r":4,"t":30,"e":100,"v":0.35},
{"p":1,"g":5,"r":0,"t":0,"e":20,"v":0.6},{"p":1,"g":5,"r":0,"t":20,"e":70,"v":0.85},{"p":1,"g":5,"r":0,"t":70,"e":100,"v":0.5},{"p":1,"g":5,"r":1,"t":0,"e":25,"v":0.85},{"p":1,"g":5,"r":1,"t":25,"e":70,"v":0.7},{"p":1,"g":5,"r":1,"t":70,"e":100,"v":0.45},{"p":1,"g":5,"r":2,"t":0,"e":12,"v":1.15},{"p":1,"g":5,"r":2,"t":12,"e":80,"v":1.6},{"p":1,"g":5,"r":2,"t":80,"e":100,"v":1.45},{"p":1,"g":5,"r":3,"t":0,"e":100,"v":0.55},{"p":1,"g":5,"r":4,"t":0,"e":15,"v":0.5},{"p":1,"g":5,"r":4,"t":15,"e":50,"v":1},{"p":1,"g":5,"r":4,"t":50,"e":100,"v":1.05},
{"p":2,"g":5,"r":0,"t":0,"e":70,"v":0.85},{"p":2,"g":5,"r":0,"t":70,"e":100,"v":0.55},{"p":2,"g":5,"r":1,"t":0,"e":100,"v":0.3},{"p":2,"g":5,"r":2,"t":0,"e":20,"v":0.9},{"p":2,"g":5,"r":2,"t":20,"e":45,"v":1.1},{"p":2,"g":5,"r":2,"t":45,"e":70,"v":1.55},{"p":2,"g":5,"r":2,"t":70,"e":85,"v":1.1},{"p":2,"g":5,"r":2,"t":85,"e":100,"v":0.6},{"p":2,"g":5,"r":3,"t":0,"e":45,"v":0.55},{"p":2,"g":5,"r":3,"t":45,"e":85,"v":1},{"p":2,"g":5,"r":3,"t":85,"e":100,"v":1.05},{"p":2,"g":5,"r":4,"t":0,"e":25,"v":0.3},{"p":2,"g":5,"r":4,"t":25,"e":45,"v":0.55},{"p":2,"g":5,"r":4,"t":45,"e":60,"v":1.2},{"p":2,"g":5,"r":4,"t":60,"e":80,"v":2.05},{"p":2,"g":5,"r":4,"t":80,"e":100,"v":1.9},
{"p":3,"g":5,"r":0,"t":0,"e":15,"v":0.6},{"p":3,"g":5,"r":0,"t":15,"e":50,"v":1.2},{"p":3,"g":5,"r":0,"t":50,"e":100,"v":1},{"p":3,"g":5,"r":1,"t":0,"e":60,"v":1.1},{"p":3,"g":5,"r":1,"t":60,"e":100,"v":0.55},{"p":3,"g":5,"r":2,"t":0,"e":40,"v":1.6},{"p":3,"g":5,"r":2,"t":40,"e":70,"v":1.9},{"p":3,"g":5,"r":2,"t":70,"e":85,"v":1.5},{"p":3,"g":5,"r":2,"t":85,"e":100,"v":1.2},{"p":3,"g":5,"r":3,"t":0,"e":60,"v":0.8},{"p":3,"g":5,"r":3,"t":60,"e":100,"v":1.15},{"p":3,"g":5,"r":4,"t":0,"e":25,"v":0.8},{"p":3,"g":5,"r":4,"t":25,"e":60,"v":1.1},{"p":3,"g":5,"r":4,"t":60,"e":100,"v":0.75},
{"p":4,"g":5,"r":0,"t":0,"e":50,"v":0.65},{"p":4,"g":5,"r":0,"t":50,"e":100,"v":0.55},{"p":4,"g":5,"r":1,"t":0,"e":70,"v":0.9},{"p":4,"g":5,"r":1,"t":70,"e":100,"v":0.6},{"p":4,"g":5,"r":2,"t":0,"e":25,"v":0.6},{"p":4,"g":5,"r":2,"t":25,"e":40,"v":0.9},{"p":4,"g":5,"r":2,"t":40,"e":80,"v":1.15},{"p":4,"g":5,"r":2,"t":80,"e":100,"v":0.55},{"p":4,"g":5,"r":3,"t":0,"e":100,"v":0.75},{"p":4,"g":5,"r":4,"t":0,"e":50,"v":0.55},{"p":4,"g":5,"r":4,"t":50,"e":100,"v":0.9},
{"p":5,"g":5,"r":0,"t":0,"e":100,"v":0.8},{"p":5,"g":5,"r":1,"t":0,"e":70,"v":0.5},{"p":5,"g":5,"r":1,"t":70,"e":100,"v":0.4},{"p":5,"g":5,"r":2,"t":0,"e":70,"v":0.95},{"p":5,"g":5,"r":2,"t":70,"e":85,"v":0.75},{"p":5,"g":5,"r":2,"t":85,"e":100,"v":0.45},{"p":5,"g":5,"r":3,"t":0,"e":20,"v":0.55},{"p":5,"g":5,"r":3,"t":20,"e":40,"v":1},{"p":5,"g":5,"r":3,"t":40,"e":60,"v":1.3},{"p":5,"g":5,"r":3,"t":60,"e":100,"v":1.5},{"p":5,"g":5,"r":4,"t":0,"e":25,"v":0.3},{"p":5,"g":5,"r":4,"t":25,"e":50,"v":0.55},{"p":5,"g":5,"r":4,"t":50,"e":62,"v":1.1},{"p":5,"g":5,"r":4,"t":62,"e":100,"v":1.3},
{"p":6,"g":5,"r":0,"t":0,"e":15,"v":0.65},{"p":6,"g":5,"r":0,"t":15,"e":65,"v":0.95},{"p":6,"g":5,"r":0,"t":65,"e":85,"v":0.7},{"p":6,"g":5,"r":0,"t":85,"e":100,"v":0.35},{"p":6,"g":5,"r":1,"t":0,"e":100,"v":0.8},{"p":6,"g":5,"r":2,"t":0,"e":15,"v":0.7},{"p":6,"g":5,"r":2,"t":15,"e":30,"v":0.95},{"p":6,"g":5,"r":2,"t":30,"e":80,"v":1.45},{"p":6,"g":5,"r":2,"t":80,"e":100,"v":1.15},{"p":6,"g":5,"r":3,"t":0,"e":30,"v":1.3},{"p":6,"g":5,"r":3,"t":30,"e":50,"v":1.05},{"p":6,"g":5,"r":3,"t":50,"e":100,"v":1},{"p":6,"g":5,"r":4,"t":0,"e":15,"v":0.3},{"p":6,"g":5,"r":4,"t":15,"e":30,"v":0.5},{"p":6,"g":5,"r":4,"t":30,"e":50,"v":1},{"p":6,"g":5,"r":4,"t":50,"e":70,"v":1.55},{"p":6,"g":5,"r":4,"t":70,"e":100,"v":1.85},
{"p":7,"g":5,"r":0,"t":0,"e":20,"v":0.6},{"p":7,"g":5,"r":0,"t":20,"e":30,"v":1.1},{"p":7,"g":5,"r":0,"t":30,"e":75,"v":1.5},{"p":7,"g":5,"r":0,"t":75,"e":90,"v":1.1},{"p":7,"g":5,"r":0,"t":90,"e":100,"v":0.4},{"p":7,"g":5,"r":1,"t":0,"e":100,"v":1.05},{"p":7,"g":5,"r":2,"t":0,"e":55,"v":1.35},{"p":7,"g":5,"r":2,"t":55,"e":85,"v":1.65},{"p":7,"g":5,"r":2,"t":85,"e":92,"v":2.1},{"p":7,"g":5,"r":2,"t":92,"e":100,"v":2.35},{"p":7,"g":5,"r":3,"t":0,"e":40,"v":1.2},{"p":7,"g":5,"r":3,"t":40,"e":75,"v":1},{"p":7,"g":5,"r":3,"t":75,"e":100,"v":0.55},{"p":7,"g":5,"r":4,"t":0,"e":25,"v":1.3},{"p":7,"g":5,"r":4,"t":25,"e":40,"v":1.7},{"p":7,"g":5,"r":4,"t":40,"e":60,"v":2.05},{"p":7,"g":5,"r":4,"t":60,"e":80,"v":1.6},{"p":7,"g":5,"r":4,"t":80,"e":100,"v":1.35},
{"p":8,"g":5,"r":0,"t":0,"e":60,"v":0.7},{"p":8,"g":5,"r":0,"t":60,"e":90,"v":0.8},{"p":8,"g":5,"r":0,"t":90,"e":100,"v":0.4},{"p":8,"g":5,"r":1,"t":0,"e":50,"v":0.65},{"p":8,"g":5,"r":1,"t":50,"e":100,"v":1},{"p":8,"g":5,"r":2,"t":0,"e":30,"v":0.95},{"p":8,"g":5,"r":2,"t":30,"e":60,"v":1.1},{"p":8,"g":5,"r":2,"t":60,"e":80,"v":1.3},{"p":8,"g":5,"r":2,"t":80,"e":100,"v":1.5},{"p":8,"g":5,"r":3,"t":0,"e":20,"v":0.5},{"p":8,"g":5,"r":3,"t":20,"e":60,"v":0.35},{"p":8,"g":5,"r":3,"t":60,"e":100,"v":0.6},{"p":8,"g":5,"r":4,"t":0,"e":20,"v":0.25},{"p":8,"g":5,"r":4,"t":20,"e":40,"v":0.4},{"p":8,"g":5,"r":4,"t":40,"e":65,"v":1},{"p":8,"g":5,"r":4,"t":65,"e":90,"v":1.4},{"p":8,"g":5,"r":4,"t":90,"e":100,"v":1.2},
{"p":9,"g":5,"r":0,"t":0,"e":40,"v":0.8},{"p":9,"g":5,"r":0,"t":40,"e":55,"v":1.2},{"p":9,"g":5,"r":0,"t":55,"e":75,"v":1.35},{"p":9,"g":5,"r":0,"t":75,"e":100,"v":0.8},{"p":9,"g":5,"r":1,"t":0,"e":30,"v":0.55},{"p":9,"g":5,"r":1,"t":30,"e":100,"v":0.7},{"p":9,"g":5,"r":2,"t":0,"e":60,"v":0.9},{"p":9,"g":5,"r":2,"t":60,"e":80,"v":1.4},{"p":9,"g":5,"r":2,"t":80,"e":100,"v":1.1},{"p":9,"g":5,"r":3,"t":0,"e":50,"v":1.15},{"p":9,"g":5,"r":3,"t":50,"e":70,"v":0.8},{"p":9,"g":5,"r":3,"t":70,"e":100,"v":1.05},{"p":9,"g":5,"r":4,"t":0,"e":50,"v":0.65},{"p":9,"g":5,"r":4,"t":50,"e":80,"v":1},{"p":9,"g":5,"r":4,"t":80,"e":100,"v":1.35},
{"p":10,"g":5,"r":0,"t":0,"e":35,"v":0.65},{"p":10,"g":5,"r":0,"t":35,"e":60,"v":1.1},{"p":10,"g":5,"r":0,"t":60,"e":100,"v":0.75},{"p":10,"g":5,"r":1,"t":0,"e":25,"v":0.35},{"p":10,"g":5,"r":1,"t":25,"e":60,"v":0.6},{"p":10,"g":5,"r":1,"t":60,"e":100,"v":0.75},{"p":10,"g":5,"r":2,"t":0,"e":15,"v":1.7},{"p":10,"g":5,"r":2,"t":15,"e":30,"v":1.9},{"p":10,"g":5,"r":2,"t":30,"e":55,"v":2.2},{"p":10,"g":5,"r":2,"t":55,"e":70,"v":1.9},{"p":10,"g":5,"r":2,"t":70,"e":100,"v":1.45},{"p":10,"g":5,"r":3,"t":0,"e":60,"v":1},{"p":10,"g":5,"r":3,"t":60,"e":100,"v":1.2},{"p":10,"g":5,"r":4,"t":0,"e":15,"v":0.7},{"p":10,"g":5,"r":4,"t":15,"e":35,"v":1.2},{"p":10,"g":5,"r":4,"t":35,"e":55,"v":1.7},{"p":10,"g":5,"r":4,"t":55,"e":70,"v":1.4},{"p":10,"g":5,"r":4,"t":70,"e":100,"v":1.05},
{"p":1,"g":1,"l":"Thorax","a":0.03,"c":0.48,"m":0.27},{"p":1,"g":1,"l":"Pelvis","a":0.53,"c":1,"m":0.77},{"p":1,"g":2,"l":"Lead Shoulder","a":0,"c":0.4,"m":0.24},{"p":1,"g":2,"l":"Lead Elbow","a":0.46,"c":0.69,"m":0.61},{"p":1,"g":2,"l":"Lead Wrist","a":0.77,"c":1,"m":0.84},{"p":1,"g":3,"l":"Trail Shoulder","a":0,"c":0.4,"m":0.24},{"p":1,"g":3,"l":"Trail Elbow","a":0.46,"c":0.69,"m":0.61},{"p":1,"g":3,"l":"Trail Wrist","a":0.77,"c":1,"m":0.84},{"p":1,"g":4,"l":"Lead Hip","a":0,"c":0.53,"m":0.29},{"p":1,"g":4,"l":"Lead Knee","a":0.61,"c":0.75,"m":0.675},{"p":1,"g":4,"l":"Lead Ankle","a":0.81,"c":0.97,"m":0.9},{"p":1,"g":5,"l":"Trail Hip","a":0.04,"c":0.54,"m":0.24},{"p":1,"g":5,"l":"Trail Knee","a":0.61,"c":0.75,"m":0.675},{"p":1,"g":5,"l":"Trail Ankle","a":0.82,"c":0.97,"m":0.9}]},"bounds":"flush","spacing":{"row":30,"column":28},"facet":{"row":{"field":"g","type":"ordinal","title":null,"header":null},"column":{"field":"p","type":"ordinal","title":null,"header":{"labelExpr":"'P'+datum.value","labelFontSize":20,"labelFontWeight":"bold","labelFont":"Liberation Sans","labelPadding":13,"labelColor":"black"}}},"resolve":{"scale":{"y":"independent"}},"spec":{"width":79,"height":80,"resolve":{"scale":{"y":"independent"}},"layer":[{"transform":[{"filter":"isValid(datum.v)"}],"mark":"rect","encoding":{"x":{"field":"t","type":"quantitative","scale":{"domain":[0,100]},"axis":{"values":[0,50,100],"title":null,"ticks":false,"domain":false,"grid":false,"labelFlush":false,"labelOffset":3,"labelPadding":12}},"x2":{"field":"e"},"y":{"field":"r","type":"ordinal","scale":{"paddingInner":0,"paddingOuter":0},"axis":null},"color":{"field":"v","type":"quantitative","scale":{"domain":[0,0.375,1.125,1.875,2.625,3],"range":["#000080","#0000ff","#00ffff","#ffff00","#ff0000","#800000"]},"legend":{"orient":"none","legendX":784,"legendY":572,"direction":"horizontal","gradientLength":195,"gradientThickness":20,"values":[0,1,2,3],"title":"CV value","titleOrient":"bottom","titleFontSize":20,"titleFont":"Liberation Sans","titleFontWeight":"bold","titleAnchor":"middle","titlePadding":14,"labelOffset":7,"labelFontSize":14,"labelFontWeight":"bold","labelFont":"Liberation Sans","labelColor":"black","titleColor":"black","gradientStrokeColor":"#444","gradientStrokeWidth":1}}}},{"transform":[{"filter":"datum.r===0&&datum.t===0"}],"encoding":{"y":{"datum":1,"type":"quantitative","scale":{"domain":[0,1],"reverse":true},"axis":null},"y2":{"datum":0.96}},"layer":[{"mark":{"type":"rule","color":"#222"},"encoding":{"x":{"datum":20}}},{"mark":{"type":"rule","color":"#222"},"encoding":{"x":{"datum":40}}},{"mark":{"type":"rule","color":"#222"},"encoding":{"x":{"datum":60}}},{"mark":{"type":"rule","color":"#222"},"encoding":{"x":{"datum":80}}}]},{"transform":[{"filter":"isValid(datum.l)"}],"encoding":{"y":{"field":"a","type":"quantitative","scale":{"domain":[0,1],"reverse":true},"axis":null}},"layer":[{"mark":{"type":"rule","color":"black"},"encoding":{"x":{"datum":-20},"y2":{"field":"c"}}},{"mark":{"type":"rule","color":"black"},"encoding":{"x":{"datum":-20},"x2":{"datum":-7}}},{"mark":{"type":"rule","color":"black"},"encoding":{"x":{"datum":-20},"x2":{"datum":-7},"y":{"field":"c","type":"quantitative","scale":{"domain":[0,1],"reverse":true},"axis":null}}},{"mark":{"type":"text","align":"right","fontWeight":"bold","fontSize":14,"font":"Liberation Sans"},"encoding":{"x":{"datum":-33},"y":{"field":"m","type":"quantitative","scale":{"domain":[0,1],"reverse":true},"axis":null},"text":{"field":"l"}}}]}]}}
